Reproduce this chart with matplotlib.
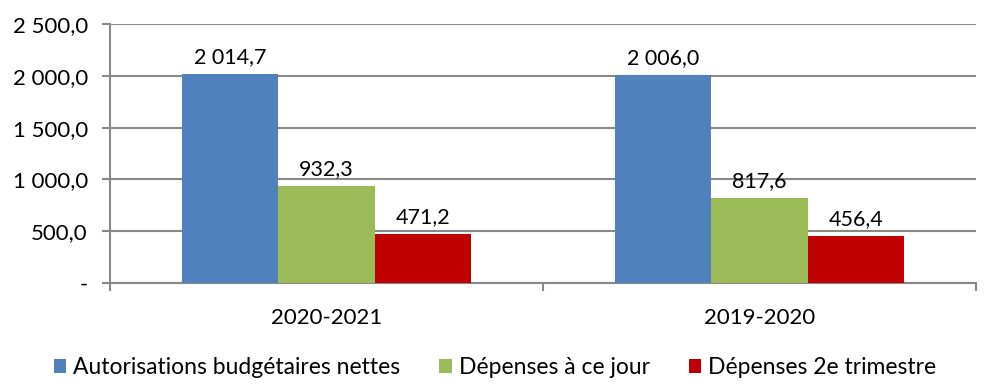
import matplotlib
matplotlib.use("Agg")
import matplotlib.pyplot as plt
import numpy as np
from matplotlib.ticker import FuncFormatter

categories = ["2020-2021", "2019-2020"]
series_names = ["Autorisations budgétaires nettes", "Dépenses à ce jour", "Dépenses 2e trimestre"]
autorisations = [2014.7, 2006.0]
depenses_jour = [932.3, 817.6]
depenses_t2 = [471.2, 456.4]
colors = ["#4F81BD", "#9BBB59", "#C00000"]

plt.rcParams['font.family'] = ['Lato', 'DejaVu Sans']
FS = 16

fig = plt.figure(figsize=(9.9, 3.92), dpi=100)
ax = fig.add_axes([110/990, 1-283/392, 866/990, 259/392])

x = np.arange(len(categories))
w = 0.222
series = [autorisations, depenses_jour, depenses_t2]
for i, (vals, name, c) in enumerate(zip(series, series_names, colors)):
    bars = ax.bar(x + (i-1)*w, vals, width=w, color=c, label=name, zorder=3)
    for b, v in zip(bars, vals):
        s = f"{v:,.1f}".replace(",", " ").replace(".", ",")
        ax.annotate(s, (b.get_x()+b.get_width()/2, v), xytext=(0, 5),
                    textcoords="offset points", ha="center", va="bottom",
                    fontsize=15.5, color="black")

ax.set_xlim(-0.5, 1.5)
ax.set_ylim(0, 2500)
ax.set_yticks(np.arange(0, 2501, 500))

def yfmt(v, p):
    if v == 0:
        return "-"
    return f"{v:,.1f}".replace(",", " ").replace(".", ",")
ax.yaxis.set_major_formatter(FuncFormatter(yfmt))
ax.grid(axis="y", color="#888888", linewidth=1.5, zorder=0)

ax.set_xticks(x)
ax.set_xticklabels(categories)
ax.set_xticks([-0.5, 0.5, 1.5], minor=True)
ax.tick_params(axis="x", which="major", length=0, labelsize=FS, pad=18)
ax.tick_params(axis="x", which="minor", length=6, width=1.5, color="#888888", direction="out")
ax.tick_params(axis="y", length=6, width=1.5, color="#888888", labelsize=FS, pad=10)

for side in ["top", "right"]:
    ax.spines[side].set_visible(False)
for side in ["left", "bottom"]:
    ax.spines[side].set_color("#888888")
    ax.spines[side].set_linewidth(1.5)

leg = fig.legend(loc="center", bbox_to_anchor=(0.5, 1-368/392), ncol=3, frameon=False,
                 fontsize=16.5, handlelength=0.55, handleheight=0.55, handletextpad=0.3,
                 columnspacing=1.7)

fig.savefig("out.png", dpi=100)
